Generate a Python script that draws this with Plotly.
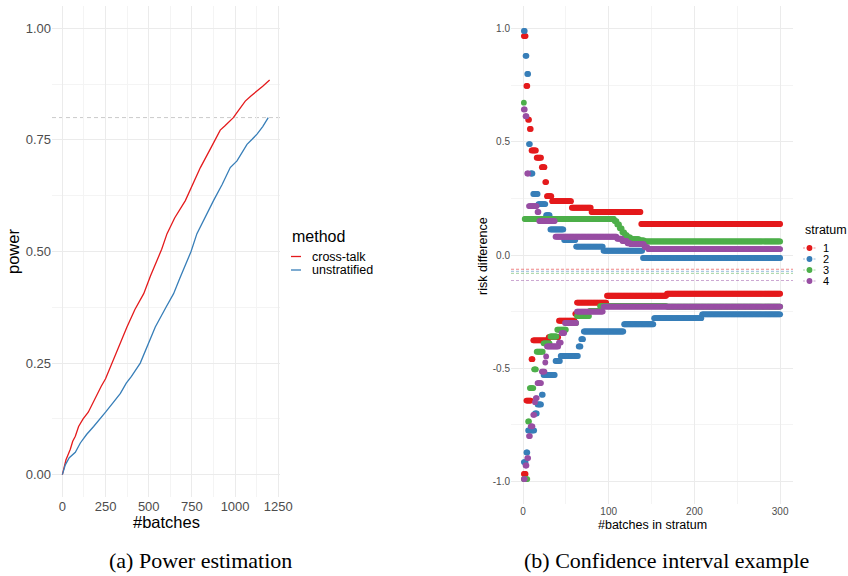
import numpy as np
import plotly.graph_objects as go

# ---------------- (a) Power estimation ----------------
ct_batches = [0, 10, 21, 30, 46, 60, 75, 94, 120, 150, 175, 201, 225, 250, 287, 330, 374, 420, 471,
              510, 548, 575, 606, 650, 712, 760, 799, 850, 870, 885, 900, 914, 940, 965, 990, 1020,
              1059, 1090, 1127, 1160, 1200]
ct_power = [0.0, 0.018, 0.0335, 0.042, 0.057, 0.075, 0.086, 0.108, 0.125, 0.14, 0.16, 0.182, 0.198,
            0.215, 0.25, 0.29, 0.331, 0.37, 0.4055, 0.445, 0.48, 0.505, 0.54, 0.575, 0.614, 0.655,
            0.688, 0.725, 0.74, 0.752, 0.764, 0.772, 0.781, 0.79, 0.80, 0.816, 0.837, 0.848, 0.859,
            0.87, 0.884]

un_batches = [0, 10, 17, 40, 75, 104, 140, 181, 215, 250, 295, 336, 370, 400, 451, 495, 538, 600,
              644, 680, 725, 745, 779, 830, 875, 925, 972, 1011, 1040, 1069, 1100, 1127, 1160, 1192]
un_power = [0.0, 0.015, 0.022, 0.038, 0.05, 0.071, 0.09, 0.108, 0.125, 0.14, 0.162, 0.182, 0.205,
            0.22, 0.25, 0.29, 0.331, 0.375, 0.4055, 0.44, 0.48, 0.50, 0.54, 0.58, 0.614, 0.65, 0.688,
            0.703, 0.722, 0.740, 0.752, 0.763, 0.78, 0.80]

power_target = 0.8
method_names = ["cross-talk", "unstratified"]

# ---------------- (b) Confidence interval example (run-length: start batch, value) ----------------
strata = ["1", "2", "3", "4"]
n_max = 300

up1_start = [1, 4, 6, 8, 10, 16, 22, 26, 28, 34, 57, 80, 138]
up1_val = [0.967, 0.747, 0.598, 0.557, 0.462, 0.43, 0.388, 0.322, 0.26, 0.238, 0.209, 0.19, 0.137]
lo1_start = [1, 4, 10, 12, 30, 42, 61, 63, 98, 168]
lo1_val = [-0.967, -0.643, -0.46, -0.377, -0.363, -0.29, -0.26, -0.21, -0.18, -0.171]

up2_start = [1, 3, 5, 7, 9, 12, 18, 27, 32, 48, 62, 94, 140]
up2_val = [0.99, 0.88, 0.80, 0.49, 0.36, 0.27, 0.225, 0.176, 0.113, 0.066, 0.037, 0.019, -0.013]
lo2_start = [1, 4, 6, 14, 17, 22, 24, 38, 44, 65, 68, 71, 118, 153, 209]
lo2_val = [-0.915, -0.872, -0.775, -0.70, -0.66, -0.617, -0.53, -0.468, -0.446, -0.404, -0.372,
           -0.338, -0.306, -0.279, -0.262]

up3_start = [1, 2, 107, 110, 113, 116, 119, 122, 126, 136, 142]
up3_val = [0.673, 0.159, 0.15, 0.135, 0.118, 0.10, 0.088, 0.078, 0.07, 0.065, 0.06]
lo3_start = [1, 6, 8, 13, 16, 24, 32, 40, 51, 63, 78, 90, 168]
lo3_val = [-0.99, -0.735, -0.588, -0.505, -0.427, -0.39, -0.36, -0.33, -0.30, -0.27, -0.247,
           -0.226, -0.228]

up4_start = [1, 3, 5, 7, 17, 19, 38, 110, 116, 122, 126, 142, 146]
up4_val = [0.643, 0.613, 0.36, 0.216, 0.19, 0.15, 0.081, 0.072, 0.062, 0.052, 0.048, 0.035, 0.026]
lo4_start = [1, 3, 5, 7, 9, 12, 14, 15, 17, 22, 26, 27, 28, 42, 45, 49, 63, 94]
lo4_val = [-0.99, -0.93, -0.897, -0.80, -0.757, -0.706, -0.65, -0.632, -0.566, -0.515, -0.475,
           -0.448, -0.404, -0.387, -0.345, -0.30, -0.25, -0.228]

null_diff = [-0.063, -0.072, -0.081, -0.113]

colors = ["#E41A1C", "#377EB8", "#4DAF4A", "#984EA3"]
W, H = 848, 576


def expand(starts, vals, nmax=n_max):
    out = np.empty(nmax)
    for i, s in enumerate(starts):
        e = starts[i + 1] if i + 1 < len(starts) else nmax + 1
        out[s - 1:e - 1] = vals[i]
    return out


def px(x):
    return x / W


def py(y):
    return 1 - y / H


fig = go.Figure()

# left panel lines
fig.add_trace(go.Scatter(x=ct_batches, y=ct_power, mode="lines", name=method_names[0],
                         line=dict(color=colors[0], width=1.3), xaxis="x", yaxis="y",
                         showlegend=False))
fig.add_trace(go.Scatter(x=un_batches, y=un_power, mode="lines", name=method_names[1],
                         line=dict(color=colors[1], width=1.3), xaxis="x", yaxis="y",
                         showlegend=False))

# right panel points
n = np.arange(1, n_max + 1)
lows = [(lo1_start, lo1_val), (lo2_start, lo2_val), (lo3_start, lo3_val), (lo4_start, lo4_val)]
ups = [(up1_start, up1_val), (up2_start, up2_val), (up3_start, up3_val), (up4_start, up4_val)]
for group in (lows, ups):
    for i, (s, v) in enumerate(group):
        fig.add_trace(go.Scatter(x=n, y=expand(s, v), mode="markers", name=strata[i],
                                 marker=dict(color=colors[i], size=5.8, line=dict(width=0)),
                                 xaxis="x2", yaxis="y2", showlegend=False))

shapes = []
# power target line
shapes.append(dict(type="line", xref="x domain", yref="y", x0=0, x1=1, y0=power_target,
                   y1=power_target, line=dict(color="#BDBDBD", width=0.8, dash="4px,3px"), layer="below"))
# null risk difference lines
for i, v in enumerate(null_diff):
    shapes.append(dict(type="line", xref="x2 domain", yref="y2", x0=0, x1=1, y0=v, y1=v,
                       line=dict(color=colors[i], width=0.7, dash="3px,2px"), opacity=0.75,
                       layer="above"))

annotations = []
font_sans = "Liberation Sans, Arial, sans-serif"

# axis titles
annotations += [
    dict(text="power", x=px(13), y=py(252), textangle=-90, font=dict(size=16.5, color="black")),
    dict(text="#batches", x=px(166), y=py(522), font=dict(size=16.5, color="black")),
    dict(text="risk difference", x=px(483), y=py(256), textangle=-90, font=dict(size=12.5, color="black")),
    dict(text="#batches in stratum", x=px(652), y=py(525), font=dict(size=12.5, color="black")),
]

# legend (a)
annotations.append(dict(text="method", x=px(290), y=py(236), xanchor="left",
                        font=dict(size=16, color="black")))
for i, (name, yy) in enumerate(zip(method_names, [256.5, 270])):
    shapes.append(dict(type="line", xref="paper", yref="paper", x0=px(291), x1=px(301),
                       y0=py(yy), y1=py(yy), line=dict(color=colors[i], width=1.3)))
    annotations.append(dict(text=name, x=px(310), y=py(yy), xanchor="left",
                            font=dict(size=12.5, color="black")))

# legend (b)
annotations.append(dict(text="stratum", x=px(803), y=py(230), xanchor="left",
                        font=dict(size=12.5, color="black")))
for i, yy in enumerate([248, 259, 270, 281]):
    shapes.append(dict(type="line", xref="paper", yref="paper", x0=px(803), x1=px(816),
                       y0=py(yy), y1=py(yy), line=dict(color=colors[i], width=0.7, dash="2px,1.5px"),
                       opacity=0.7))
    r = 2.9
    shapes.append(dict(type="circle", xref="paper", yref="paper", x0=px(809.5 - r), x1=px(809.5 + r),
                       y0=py(yy + r), y1=py(yy - r), fillcolor=colors[i], line=dict(width=0)))
    annotations.append(dict(text=strata[i], x=px(821), y=py(yy), xanchor="left",
                            font=dict(size=11, color="black")))

# captions
font_serif = "Liberation Serif, Times New Roman, serif"
annotations += [
    dict(text="(a) Power estimation", x=px(200), y=py(560),
         font=dict(size=22, family=font_serif, color="black")),
    dict(text="(b) Confidence interval example", x=px(666), y=py(560),
         font=dict(size=22, family=font_serif, color="black")),
]
for a in annotations:
    a.setdefault("xref", "paper")
    a.setdefault("yref", "paper")
    a.setdefault("showarrow", False)
    a.setdefault("xanchor", "center")
    a.setdefault("yanchor", "middle")

grid_major = "#EBEBEB"
grid_minor = "#F4F4F4"
tickfont_l = dict(size=13, color="#4D4D4D")
tickfont_r = dict(size=10, color="#4D4D4D")
common = dict(showgrid=True, gridcolor=grid_major, gridwidth=1, zeroline=False, showline=False,
              ticks="", automargin=False, tickmode="array")

fig.update_layout(
    width=W, height=H, autosize=False, margin=dict(l=0, r=0, t=0, b=0, pad=0),
    paper_bgcolor="white", plot_bgcolor="white",
    font=dict(family=font_sans),
    showlegend=False,
    xaxis=dict(domain=[px(52), px(280)], range=[-60, 1260],
               tickvals=[0, 250, 500, 750, 1000, 1250], ticktext=["0", "250", "500", "750", "1000", "1250"],
               tickfont=tickfont_l, anchor="y",
               minor=dict(tickvals=[125, 375, 625, 875, 1125], showgrid=True, gridcolor=grid_minor, gridwidth=1),
               **common),
    yaxis=dict(domain=[py(497), py(6)], range=[-0.05, 1.05],
               tickvals=[0, 0.25, 0.5, 0.75, 1.0], ticktext=["0.00", "0.25", "0.50", "0.75", "1.00"],
               tickfont=tickfont_l, anchor="x",
               minor=dict(tickvals=[0.125, 0.375, 0.625, 0.875], showgrid=True, gridcolor=grid_minor, gridwidth=1),
               **common),
    xaxis2=dict(domain=[px(511), px(793)], range=[-14, 315],
                tickvals=[0, 100, 200, 300], ticktext=["0", "100", "200", "300"],
                tickfont=tickfont_r, anchor="y2",
                minor=dict(tickvals=[50, 150, 250], showgrid=True, gridcolor=grid_minor, gridwidth=1),
                **common),
    yaxis2=dict(domain=[py(504), py(6)], range=[-1.1, 1.1],
                tickvals=[-1, -0.5, 0, 0.5, 1], ticktext=["-1.0", "-0.5", "0.0", "0.5", "1.0"],
                tickfont=tickfont_r, anchor="x2",
                minor=dict(tickvals=[-0.75, -0.25, 0.25, 0.75], showgrid=True, gridcolor=grid_minor, gridwidth=1),
                **common),
    shapes=shapes,
    annotations=annotations,
)

fig.write_html("out.html", config={"responsive": False})
